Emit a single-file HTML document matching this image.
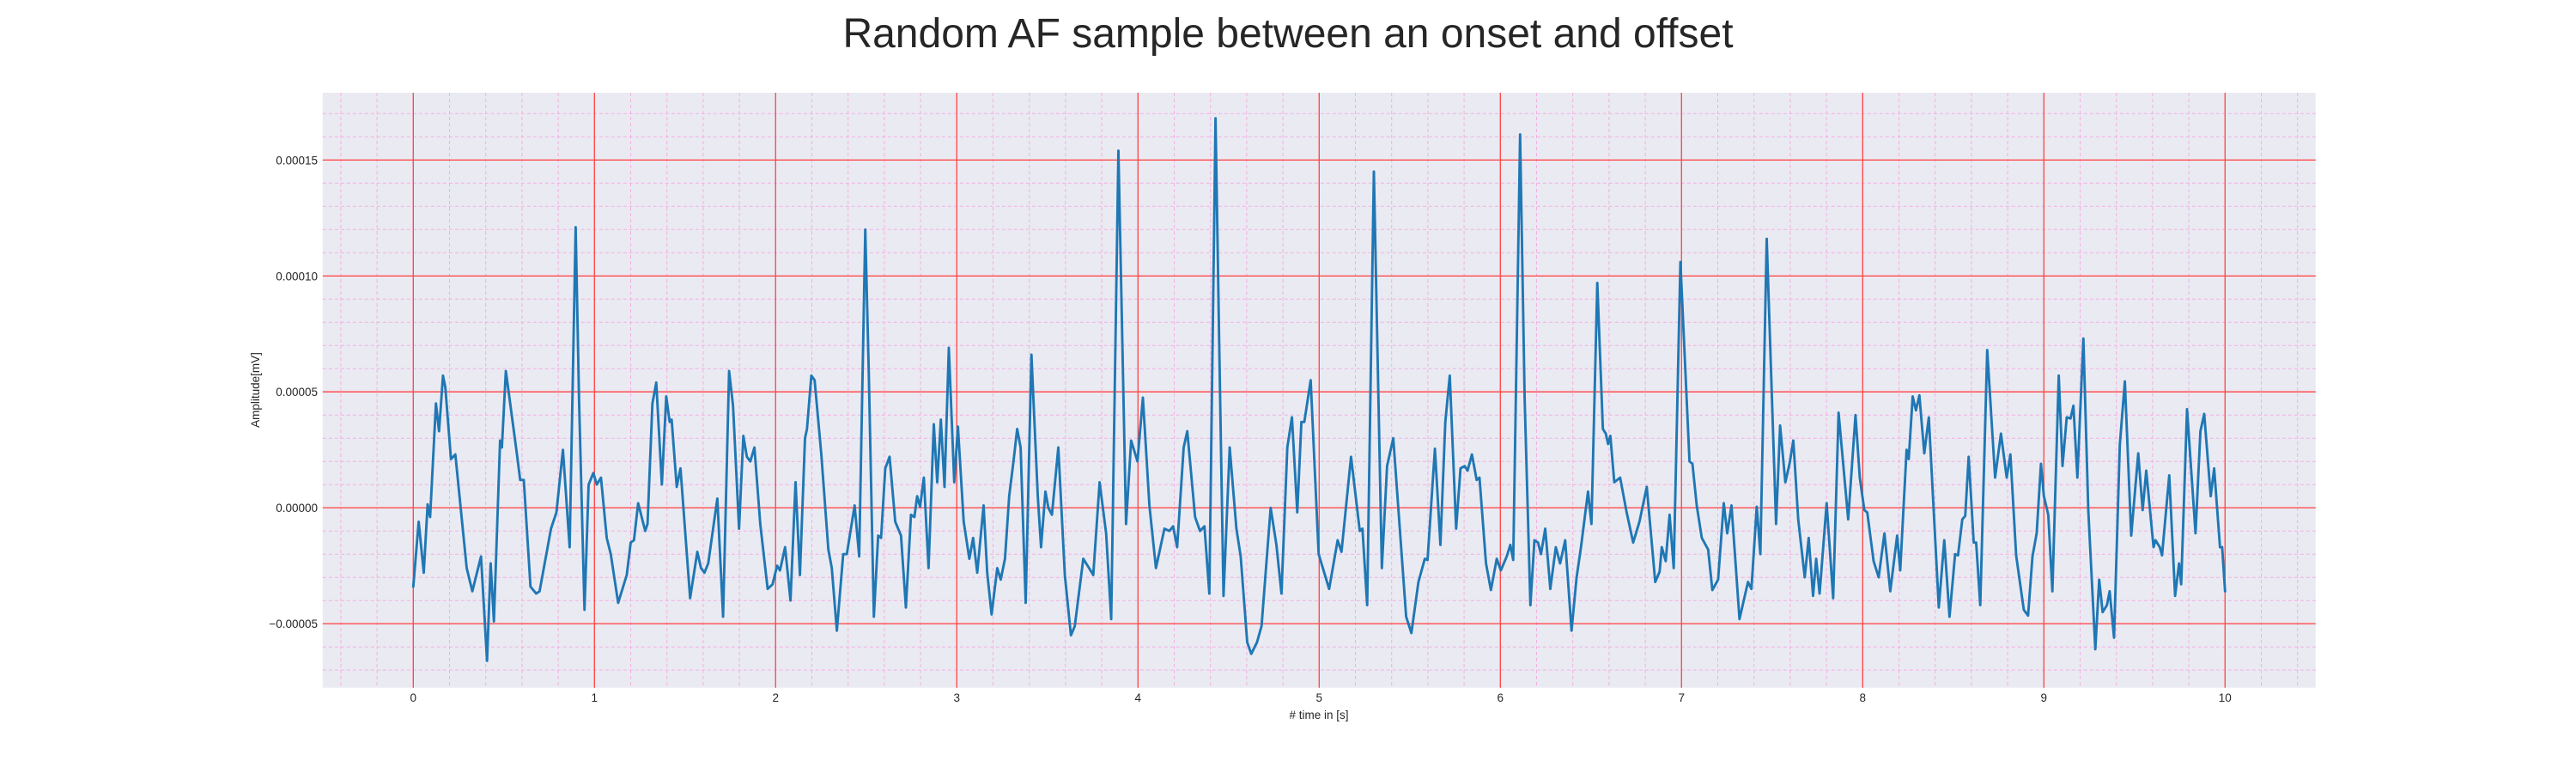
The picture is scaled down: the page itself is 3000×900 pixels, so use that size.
<!DOCTYPE html>
<html><head><meta charset="utf-8"><style>
html,body{margin:0;padding:0;background:#fff;}
svg{display:block;font-family:"Liberation Sans",Arial,sans-serif;}
</style></head><body>
<svg id="chart" width="3000" height="900" xmlns="http://www.w3.org/2000/svg">
<rect x="0" y="0" width="3000" height="900" fill="#ffffff"/>
<text x="1500" y="55" font-size="48" text-anchor="middle" fill="#262626">Random AF sample between an onset and offset</text>
<rect x="375.8" y="108" width="2321" height="692.7" fill="#eaeaf2"/>
<g id="grid"></g>
<g id="ticks"></g>
<path id="signal" fill="none" stroke="#1f77b4" stroke-width="2.9" stroke-linejoin="round" stroke-linecap="round"/>
<text x="1536" y="837" font-size="13.5" text-anchor="middle" fill="#262626"># time in [s]</text>
<text x="0" y="0" font-size="13.5" text-anchor="middle" fill="#262626" transform="translate(302,454) rotate(-90)">Amplitude[mV]</text>
</svg>
<script>
const times = [0,0.03,0.058,0.079,0.093,0.125,0.142,0.164,0.177,0.208,0.232,0.295,0.326,0.374,0.407,0.427,0.445,0.479,0.489,0.511,0.533,0.574,0.59,0.61,0.647,0.678,0.697,0.76,0.79,0.826,0.863,0.896,0.915,0.945,0.968,0.994,1.013,1.036,1.068,1.09,1.131,1.178,1.2,1.218,1.241,1.28,1.293,1.32,1.341,1.372,1.396,1.415,1.426,1.454,1.475,1.528,1.568,1.588,1.607,1.628,1.678,1.71,1.743,1.765,1.798,1.822,1.841,1.86,1.883,1.915,1.956,1.983,
2.008,2.024,2.052,2.082,2.11,2.134,2.162,2.173,2.197,2.215,2.252,2.291,2.31,2.338,2.373,2.393,2.436,2.461,2.495,2.514,2.542,2.566,2.582,2.605,2.629,2.66,2.692,2.719,2.747,2.766,2.781,2.797,2.818,2.844,2.873,2.892,2.912,2.932,2.956,2.986,3.006,3.038,3.069,3.09,3.113,3.148,3.168,3.192,3.223,3.242,3.266,3.289,3.313,3.333,3.352,3.38,3.412,3.447,3.465,3.489,3.505,3.525,3.56,3.596,3.63,3.651,3.698,3.73,3.753,3.788,3.824,3.852,3.892,3.934,3.962,
3.997,4.027,4.063,4.099,4.146,4.173,4.194,4.216,4.252,4.272,4.315,4.342,4.367,4.394,4.428,4.449,4.472,4.506,4.543,4.567,4.603,4.625,4.657,4.682,4.732,4.764,4.792,4.824,4.85,4.879,4.902,4.918,4.953,4.997,5.055,5.102,5.123,5.176,5.224,5.239,5.265,5.302,5.346,5.375,5.409,5.48,5.509,5.548,5.583,5.598,5.639,5.669,5.696,5.721,5.756,5.78,5.803,5.819,5.843,5.869,5.885,5.921,5.948,
5.98,6.003,6.035,6.055,6.071,6.109,6.134,6.166,6.188,6.208,6.224,6.248,6.276,6.306,6.33,6.358,6.393,6.421,6.445,6.484,6.503,6.535,6.566,6.582,6.595,6.607,6.629,6.661,6.697,6.733,6.768,6.808,6.855,6.879,6.891,6.913,6.934,6.957,6.994,7.044,7.06,7.084,7.112,7.147,7.17,7.202,7.233,7.252,7.276,7.32,7.367,7.386,7.415,7.435,7.47,7.522,7.544,7.573,7.596,7.617,7.644,7.68,7.702,7.726,7.743,7.762,7.801,7.837,7.867,7.92,
7.96,7.984,8.009,8.025,8.06,8.088,8.12,8.152,8.19,8.207,8.242,8.254,8.276,8.294,8.313,8.34,8.365,8.42,8.45,8.479,8.51,8.526,8.55,8.566,8.585,8.613,8.626,8.649,8.687,8.731,8.763,8.795,8.815,8.847,8.889,8.913,8.937,8.96,8.984,9.0,9.024,9.047,9.082,9.103,9.126,9.147,9.163,9.185,9.218,9.245,9.284,9.305,9.324,9.348,9.363,9.387,9.419,9.447,9.482,9.521,9.545,9.565,9.605,9.616,9.64,9.652,9.692,9.724,9.746,9.758,9.79,9.837,9.864,9.885,9.921,9.94,9.972,9.984,10.0];
// amplitudes in units of 1e-5 mV
const amps = [-3.4,-0.6,-2.8,0.15,-0.4,4.5,3.3,5.7,5.2,2.1,2.3,-2.6,-3.6,-2.1,-6.6,-2.4,-4.9,2.9,2.6,5.9,4.6,2.2,1.2,1.2,-3.4,-3.7,-3.6,-0.9,-0.2,2.5,-1.7,12.1,4.6,-4.4,1.0,1.5,1.0,1.3,-1.3,-2.0,-4.1,-2.9,-1.5,-1.4,0.2,-1.0,-0.7,4.5,5.4,1.0,4.8,3.7,3.8,0.9,1.7,-3.9,-1.9,-2.6,-2.8,-2.4,0.4,-4.7,5.9,4.4,-0.9,3.1,2.2,2.0,2.6,-0.7,-3.5,-3.3,
-2.5,-2.7,-1.7,-4.0,1.1,-2.9,3.0,3.4,5.7,5.5,2.3,-1.8,-2.6,-5.3,-2.0,-2.0,0.1,-2.1,12.0,5.8,-4.7,-1.2,-1.3,1.7,2.2,-0.6,-1.2,-4.3,-0.3,-0.4,0.5,0.05,1.3,-2.6,3.6,1.1,3.8,0.9,6.9,1.1,3.5,-0.6,-2.2,-1.3,-2.8,0.1,-2.8,-4.6,-2.6,-3.1,-2.2,0.5,2.0,3.4,2.6,-4.1,6.6,0.5,-1.7,0.7,0,-0.3,2.6,-2.9,-5.5,-5.1,-2.2,-2.6,-2.9,1.1,-1.1,-4.8,15.4,-0.7,2.9,
2.0,4.75,0.1,-2.6,-0.9,-1.0,-0.8,-1.7,2.6,3.3,-0.4,-1.0,-0.8,-3.7,16.8,6.8,-3.8,2.6,-0.9,-2.1,-5.8,-6.3,-5.8,-5.1,0,-1.6,-3.7,2.6,3.9,-0.2,3.7,3.7,5.5,-2.0,-3.5,-1.4,-1.9,2.2,-1.0,-0.9,-4.2,14.5,-2.6,1.8,3.0,-4.7,-5.4,-3.2,-2.2,-2.25,2.55,-1.6,3.7,5.7,-0.9,1.7,1.8,1.6,2.3,1.2,1.3,-2.4,-3.55,
-2.2,-2.7,-2.1,-1.6,-2.25,16.1,4.7,-4.2,-1.4,-1.5,-2.0,-0.9,-3.5,-1.7,-2.4,-1.4,-5.3,-3.0,-1.7,0.7,-0.7,9.7,3.4,3.2,2.75,3.1,1.1,1.3,-0.2,-1.5,-0.6,0.9,-3.2,-2.75,-1.7,-2.3,-0.3,-2.6,10.6,2.0,1.9,0.1,-1.3,-1.8,-3.55,-3.1,0.2,-1.1,0.1,-4.8,-3.2,-3.5,0.05,-2.0,11.6,-0.7,3.55,1.1,1.9,2.9,-0.5,-3.0,-1.3,-3.8,-2.2,-3.7,0.2,-3.9,4.1,-0.5,
4.0,1.3,-0.1,-0.2,-2.3,-3.0,-1.1,-3.6,-1.2,-2.7,2.5,2.1,4.8,4.2,4.85,2.35,3.9,-4.3,-1.4,-4.7,-2.0,-2.05,-0.5,-0.35,2.2,-1.5,-1.5,-4.2,6.8,1.3,3.2,1.3,2.3,-2.05,-4.4,-4.65,-2.1,-1.1,1.9,0.5,-0.3,-3.6,5.7,1.8,3.9,3.85,4.4,1.3,7.3,-0.1,-6.1,-3.1,-4.5,-4.2,-3.6,-5.6,2.7,5.45,-1.2,2.35,-0.1,1.6,-1.7,-1.4,-1.7,-2.05,1.4,-3.8,-2.4,-3.3,4.25,-1.1,3.3,4.05,0.5,1.7,-1.7,-1.7,-3.6];
const xTickLabels = ["0","1","2","3","4","5","6","7","8","9","10"];
const yTickValues = [-5,0,5,10,15];
const yTickLabels = ["\u22120.00005","0.00000","0.00005","0.00010","0.00015"];

const NS = "http://www.w3.org/2000/svg";
const L = 375.8, R = 2696.8, T = 108, B = 800.7;
const xMin = -0.5, xMax = 10.5, yMin = -7.76, yMax = 17.9;
function xs(t){ return L + (t - xMin) / (xMax - xMin) * (R - L); }
function ys(v){ return B - (v - yMin) / (yMax - yMin) * (B - T); }

const grid = document.getElementById('grid');
const ticks = document.getElementById('ticks');
function line(x1,y1,x2,y2,stroke,w,dash,parent,name){
  const el = document.createElementNS(NS,'line');
  el.setAttribute('x1',x1);el.setAttribute('y1',y1);el.setAttribute('x2',x2);el.setAttribute('y2',y2);
  el.setAttribute('stroke',stroke);el.setAttribute('stroke-width',w);
  if(dash) el.setAttribute('stroke-dasharray',dash);
  
  
  parent.appendChild(el);
}
for(let i=-2;i<=52;i++){
  const t = i*0.2; if(t<xMin||t>xMax) continue;
  if(i%5===0) continue;
  line(xs(t),T,xs(t),B,'#f3b0e2',1,'4,3',grid,'x-minor-gridline');
}
for(let v=-7;v<=17;v++){
  if(v%5===0) continue;
  line(L,ys(v),R,ys(v),'#f3b0e2',1,'4,3',grid,'y-minor-gridline');
}
xTickLabels.forEach((lab,i)=>{
  const x = xs(+lab);
  line(x,T,x,B,'#ff4d4d',1.4,null,grid,'x-major-gridline');
  const tx = document.createElementNS(NS,'text');
  tx.setAttribute('x',x);tx.setAttribute('y',817);tx.setAttribute('font-size','13.5');
  tx.setAttribute('text-anchor','middle');tx.setAttribute('fill','#262626');
  
  
  tx.textContent = lab; ticks.appendChild(tx);
});
yTickValues.forEach((v,i)=>{
  const y = ys(v);
  line(L,y,R,y,'#ff4d4d',1.4,null,grid,'y-major-gridline');
  const tx = document.createElementNS(NS,'text');
  tx.setAttribute('x',370);tx.setAttribute('y',y+5);tx.setAttribute('font-size','13.5');
  tx.setAttribute('text-anchor','end');tx.setAttribute('fill','#262626');
  
  
  tx.textContent = yTickLabels[i]; ticks.appendChild(tx);
});
let d = '';
times.forEach((t,i)=>{ d += (i?'L':'M') + xs(t).toFixed(1) + ',' + ys(amps[i]).toFixed(1); });
document.getElementById('signal').setAttribute('d', d);
</script>
</body></html>
